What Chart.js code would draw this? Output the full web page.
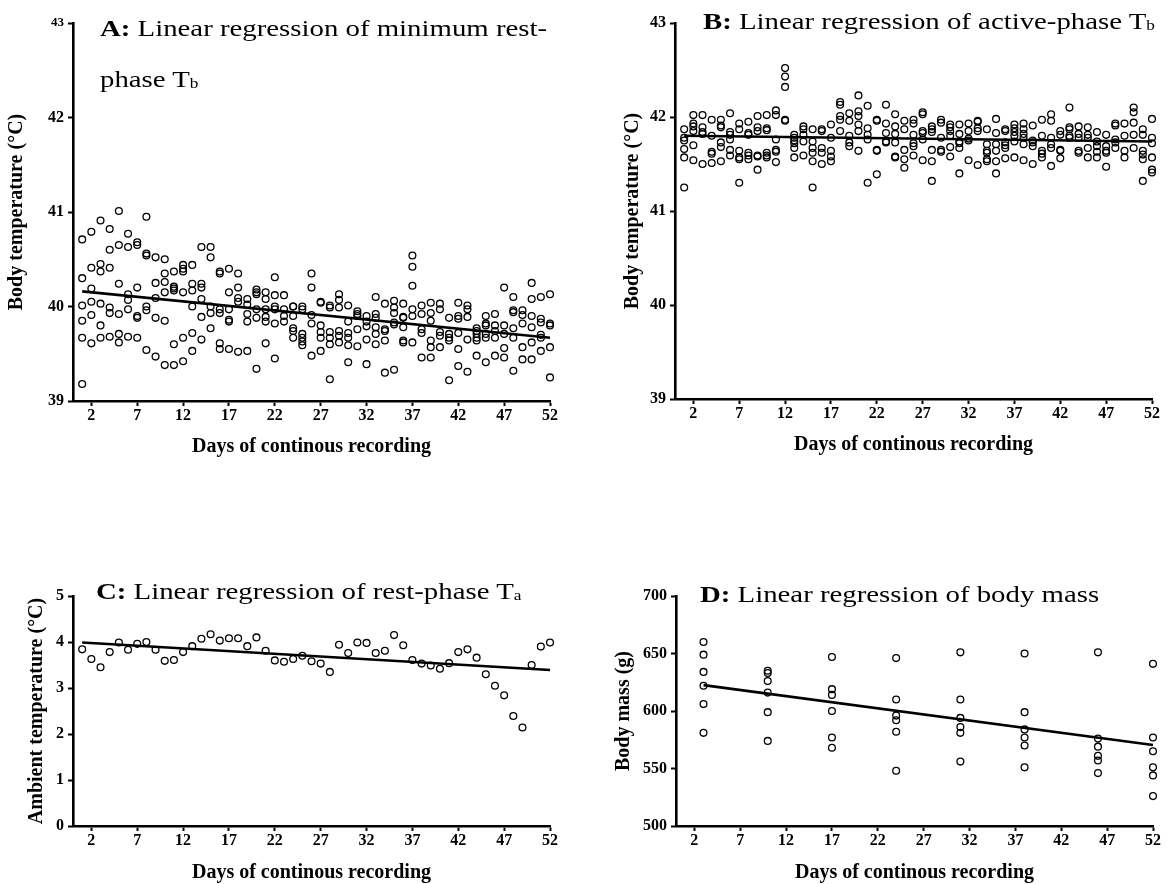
<!DOCTYPE html>
<html>
<head>
<meta charset="utf-8">
<script src="https://cdn.jsdelivr.net/npm/chart.js@4.4.1/dist/chart.umd.min.js"></script>
<style>
  html, body { margin: 0; padding: 0; background: #fff; overflow: hidden; }
  body { width: 1167px; height: 884px; position: relative; font-family: "Liberation Serif", "Times New Roman", serif; }
  canvas { position: absolute; }
  .ptitle { position: absolute; font-size: 24px; line-height: 24px; white-space: nowrap; color: #000;
            transform-origin: 0 0; transform: scaleX(1.2); z-index: 2; }
  .ptitle sub { font-size: 60%; vertical-align: -0.1em; line-height: 0; }
</style>
</head>
<body>
<canvas id="chartA" width="580" height="470" style="left:0;top:0"></canvas>
<canvas id="chartB" width="567" height="470" style="left:600px;top:0"></canvas>
<canvas id="chartC" width="580" height="320" style="left:0;top:570px"></canvas>
<canvas id="chartD" width="567" height="320" style="left:600px;top:570px"></canvas>

<div class="ptitle" style="left:100px;top:16px"><b>A:</b> Linear regression of minimum rest-</div>
<div class="ptitle" style="left:100px;top:67px">phase T<sub>b</sub></div>
<div class="ptitle" style="left:703px;top:9px"><b>B:</b> Linear regression of active-phase T<sub>b</sub></div>
<div class="ptitle" style="left:96px;top:579px"><b>C:</b> Linear regression of rest-phase T<sub>a</sub></div>
<div class="ptitle" style="left:700px;top:582px"><b>D:</b> Linear regression of body mass</div>

<script>
// --- data ---
const days = [1,2,3,4,5,6,7,8,9,10,11,12,13,14,15,16,17,18,19,20,21,22,23,24,25,26,
              27,28,29,30,31,32,33,34,35,36,37,38,39,40,41,42,43,44,45,46,47,48,49,50,51,52];
const xTickValues = [2, 7, 12, 17, 22, 27, 32, 37, 42, 47, 52];

// A: minimum rest-phase Tb, one list per day
const restTb = [
  [40.71, 40.30, 40.01, 39.85, 39.67, 39.18],
  [40.79, 40.41, 40.19, 40.05, 39.91, 39.61],
  [40.91, 40.45, 40.37, 40.03, 39.80, 39.67],
  [40.82, 40.60, 40.41, 39.99, 39.93, 39.68],
  [41.01, 40.65, 40.24, 39.92, 39.71, 39.62],
  [40.77, 40.63, 40.13, 40.07, 39.97, 39.68],
  [40.68, 40.65, 40.20, 39.90, 39.88, 39.67],
  [40.95, 40.56, 40.54, 40.00, 39.96, 39.54],
  [40.52, 40.25, 40.09, 39.88, 39.47],
  [40.50, 40.35, 40.26, 40.15, 39.85, 39.38],
  [40.37, 40.21, 40.19, 40.17, 39.60, 39.38],
  [40.44, 40.40, 40.37, 40.15, 39.67, 39.42],
  [40.44, 40.24, 40.17, 40.00, 39.72, 39.53],
  [40.63, 40.24, 40.20, 40.08, 39.89, 39.65],
  [40.63, 40.52, 40.00, 39.93, 39.77],
  [40.37, 40.35, 39.97, 39.93, 39.61, 39.55],
  [40.40, 40.15, 39.97, 39.86, 39.84, 39.55],
  [40.35, 40.20, 40.09, 40.05, 39.52],
  [40.08, 40.02, 39.92, 39.84, 39.53],
  [40.18, 40.15, 40.13, 39.97, 39.88, 39.34],
  [40.15, 40.08, 39.97, 39.89, 39.84, 39.61],
  [40.31, 40.12, 40.00, 39.97, 39.82, 39.45],
  [40.12, 39.97, 39.90, 39.84],
  [40.00, 40.00, 39.90, 39.77, 39.74, 39.67],
  [40.00, 39.97, 39.71, 39.67, 39.63, 39.59],
  [40.35, 40.20, 39.91, 39.82, 39.48],
  [40.05, 40.04, 39.80, 39.73, 39.67, 39.53],
  [40.01, 39.99, 39.73, 39.67, 39.60, 39.23],
  [40.13, 40.07, 39.99, 39.74, 39.69, 39.62],
  [40.01, 39.84, 39.72, 39.67, 39.59, 39.41],
  [39.95, 39.92, 39.90, 39.76, 39.58],
  [39.90, 39.84, 39.79, 39.65, 39.39],
  [40.10, 39.92, 39.88, 39.78, 39.71, 39.60],
  [40.03, 39.76, 39.74, 39.64, 39.30],
  [40.06, 39.99, 39.93, 39.83, 39.81, 39.33],
  [40.03, 39.89, 39.88, 39.78, 39.64, 39.62],
  [40.54, 40.42, 40.22, 39.97, 39.90, 39.62],
  [40.01, 39.92, 39.76, 39.72, 39.46],
  [40.04, 39.93, 39.85, 39.64, 39.57, 39.46],
  [40.03, 39.97, 39.73, 39.69, 39.57],
  [39.88, 39.71, 39.67, 39.64, 39.22],
  [40.04, 39.90, 39.87, 39.72, 39.55, 39.37],
  [40.01, 39.97, 39.89, 39.65, 39.31],
  [39.77, 39.74, 39.71, 39.67, 39.64, 39.48],
  [39.90, 39.82, 39.80, 39.71, 39.67, 39.41],
  [39.92, 39.80, 39.74, 39.67, 39.48],
  [40.20, 39.80, 39.71, 39.56, 39.46],
  [40.10, 39.96, 39.94, 39.77, 39.67, 39.32],
  [39.96, 39.91, 39.82, 39.57, 39.44],
  [40.25, 40.08, 39.90, 39.78, 39.62, 39.44],
  [40.10, 39.87, 39.83, 39.70, 39.67, 39.53],
  [40.13, 39.82, 39.80, 39.57, 39.25]
];

// B: active-phase Tb, one list per day
const activeTb = [
  [41.87, 41.78, 41.75, 41.66, 41.57, 41.25],
  [42.02, 41.93, 41.90, 41.85, 41.70, 41.54],
  [42.02, 41.89, 41.84, 41.82, 41.50],
  [41.97, 41.80, 41.63, 41.61, 41.51],
  [41.97, 41.91, 41.89, 41.73, 41.68, 41.53],
  [42.04, 41.84, 41.81, 41.76, 41.65, 41.59],
  [41.93, 41.87, 41.64, 41.57, 41.55, 41.30],
  [41.95, 41.83, 41.81, 41.62, 41.59, 41.55],
  [42.01, 41.89, 41.85, 41.59, 41.58, 41.44],
  [42.02, 41.88, 41.86, 41.62, 41.59, 41.57],
  [42.07, 42.02, 41.76, 41.65, 41.63, 41.52],
  [42.52, 42.43, 42.32, 41.97, 41.96],
  [41.81, 41.78, 41.75, 41.72, 41.67, 41.57],
  [41.90, 41.87, 41.81, 41.74, 41.59],
  [41.87, 41.74, 41.67, 41.62, 41.53, 41.25],
  [41.87, 41.85, 41.67, 41.62, 41.50],
  [41.92, 41.78, 41.64, 41.58, 41.53],
  [42.16, 42.13, 42.01, 41.97, 41.85],
  [42.04, 41.96, 41.80, 41.73, 41.69],
  [42.23, 42.06, 42.01, 41.92, 41.85, 41.64],
  [42.12, 41.88, 41.81, 41.76, 41.30],
  [41.97, 41.96, 41.65, 41.64, 41.39],
  [42.13, 41.93, 41.83, 41.74, 41.73],
  [42.03, 41.90, 41.82, 41.73, 41.58, 41.57],
  [41.96, 41.87, 41.65, 41.55, 41.46],
  [41.97, 41.93, 41.81, 41.72, 41.69, 41.59],
  [42.05, 42.03, 41.85, 41.83, 41.76, 41.54],
  [41.90, 41.87, 41.84, 41.65, 41.53, 41.32],
  [41.97, 41.94, 41.78, 41.65, 41.63],
  [41.92, 41.89, 41.85, 41.80, 41.68, 41.58],
  [41.92, 41.82, 41.74, 41.72, 41.67, 41.40],
  [41.93, 41.85, 41.77, 41.75, 41.54],
  [41.96, 41.95, 41.88, 41.85, 41.49],
  [41.87, 41.71, 41.64, 41.62, 41.55, 41.53],
  [41.98, 41.83, 41.71, 41.64, 41.53, 41.40],
  [41.87, 41.85, 41.73, 41.70, 41.67, 41.56],
  [41.92, 41.88, 41.84, 41.80, 41.74, 41.57],
  [41.93, 41.87, 41.82, 41.78, 41.71, 41.54],
  [41.91, 41.75, 41.73, 41.69, 41.50],
  [41.97, 41.80, 41.64, 41.61, 41.57],
  [42.03, 41.96, 41.78, 41.71, 41.67, 41.48],
  [41.85, 41.81, 41.65, 41.64, 41.56],
  [42.10, 41.89, 41.87, 41.80, 41.78],
  [41.90, 41.82, 41.78, 41.64, 41.62],
  [41.89, 41.81, 41.78, 41.67, 41.57],
  [41.84, 41.74, 41.69, 41.63, 41.57],
  [41.81, 41.69, 41.64, 41.62, 41.47],
  [41.93, 41.91, 41.76, 41.73, 41.67],
  [41.93, 41.80, 41.64, 41.57],
  [42.10, 42.05, 41.94, 41.81, 41.67],
  [41.87, 41.81, 41.64, 41.60, 41.55, 41.32],
  [41.98, 41.78, 41.72, 41.57, 41.44, 41.41]
];

// C: rest-phase Ta, one value per day
const restTa = [3.84, 3.63, 3.45, 3.78, 3.99, 3.83, 3.96, 4.00, 3.83, 3.59, 3.61, 3.78, 3.91,
                4.07, 4.17, 4.03, 4.08, 4.08, 3.91, 4.10, 3.81, 3.60, 3.57, 3.63, 3.70, 3.58,
                3.53, 3.35, 3.94, 3.76, 3.99, 3.98, 3.76, 3.81, 4.15, 3.93, 3.61, 3.53, 3.49,
                3.42, 3.54, 3.78, 3.84, 3.66, 3.30, 3.05, 2.84, 2.39, 2.14, 3.50, 3.90, 3.99];

// D: body mass, weighing days
const massDays = [3, 10, 17, 24, 31, 38, 46, 52];
const bodyMass = [
  [660, 649, 634, 622, 606, 581],
  [635, 633, 626, 616, 599, 574],
  [647, 619, 614, 600, 577, 568],
  [646, 610, 596, 592, 582, 548],
  [651, 610, 594, 586, 581, 556],
  [650, 599, 584, 577, 570, 551],
  [651, 576, 569, 561, 557, 546],
  [641, 577, 565, 551, 544, 526]
];

// regression lines (end points)
const fitDays = [1, 52];
const restTbFit = [40.16, 39.67];
const activeTbFit = [41.80, 41.74];
const restTaFit = [3.99, 3.39];
const massFitDays = [3, 52];
const massFit = [622.5, 570.5];

// --- helpers ---
const serif = '"Liberation Serif", "Times New Roman", serif';

function toPoints(xs, values) {
  const pts = [];
  values.forEach(function(v, i) {
    (Array.isArray(v) ? v : [v]).forEach(function(y) { pts.push({x: xs[i], y: y}); });
  });
  return pts;
}

function makePanel(id, cfg) {
  return new Chart(document.getElementById(id), {
    type: 'scatter',
    data: {
      datasets: [{
        data: toPoints(cfg.xs, cfg.values),
        pointRadius: 3.4,
        borderWidth: 1.3,
        pointBorderColor: '#000',
        pointBackgroundColor: 'rgba(0,0,0,0)',
        clip: false
      }, {
        data: toPoints(cfg.fitX, cfg.fitY),
        showLine: true,
        borderColor: '#000',
        borderWidth: 2.6,
        pointRadius: 0,
        clip: false
      }]
    },
    options: {
      responsive: false,
      animation: false,
      events: [],
      layout: { padding: { top: cfg.top, right: cfg.right, left: 0, bottom: 0 } },
      plugins: { legend: { display: false }, tooltip: { enabled: false } },
      scales: {
        x: {
          type: 'linear', min: 0, max: 52,
          afterBuildTicks: function(s) { s.ticks = xTickValues.map(v => ({ value: v })); },
          afterFit: function(s) { s.height = cfg.xh; },
          grid: { drawOnChartArea: false, drawTicks: true, tickLength: 5, tickWidth: 2, tickColor: '#000' },
          border: { display: true, color: '#000', width: 2.6 },
          ticks: { autoSkip: false, maxRotation: 0, padding: 0, color: '#000',
                   font: { family: serif, size: 16, weight: 'bold' } },
          title: { display: true, text: 'Days of continous recording', color: '#000',
                   padding: { top: 0, bottom: cfg.xTitlePad },
                   font: { family: serif, size: 20, weight: 'bold' } }
        },
        y: {
          min: cfg.yMin, max: cfg.yMax,
          ticks: { stepSize: cfg.yStep, padding: 4, color: '#000',
                   font: cfg.yFont || { family: serif, size: 16, weight: 'bold' } },
          afterFit: function(s) { s.width = cfg.yw; },
          grid: { drawOnChartArea: false, drawTicks: true, tickLength: 5, tickWidth: 2, tickColor: '#000' },
          border: { display: true, color: '#000', width: 2.6 },
          title: { display: true, text: cfg.yTitle, color: '#000',
                   padding: { top: cfg.yTitlePad, bottom: 0 },
                   font: { family: serif, size: 20, weight: 'bold' } }
        }
      }
    }
  });
}

makePanel('chartA', {
  xs: days, values: restTb, fitX: fitDays, fitY: restTbFit,
  top: 23, right: 30, yw: 73, xh: 69, xTitlePad: 11, yTitlePad: 5,
  yMin: 39, yMax: 43, yStep: 1, yTitle: 'Body temperature (°C)',
  yFont: function(ctx) {
    return { family: serif, size: ctx.tick && ctx.tick.value === 43 ? 13 : 16, weight: 'bold' };
  }
});

makePanel('chartB', {
  xs: days, values: activeTb, fitX: fitDays, fitY: activeTbFit,
  top: 23, right: 15, yw: 75, xh: 71, xTitlePad: 13, yTitlePad: 21,
  yMin: 39, yMax: 43, yStep: 1, yTitle: 'Body temperature (°C)'
});

makePanel('chartC', {
  xs: days, values: restTa, fitX: fitDays, fitY: restTaFit,
  top: 26, right: 30, yw: 73, xh: 64, xTitlePad: 5, yTitlePad: 25,
  yMin: 0, yMax: 5, yStep: 1, yTitle: 'Ambient temperature (°C)'
});

makePanel('chartD', {
  xs: massDays, values: bodyMass, fitX: massFitDays, fitY: massFit,
  top: 26, right: 14, yw: 76, xh: 64, xTitlePad: 5, yTitlePad: 12,
  yMin: 500, yMax: 700, yStep: 50, yTitle: 'Body mass (g)'
});
</script>
</body>
</html>
